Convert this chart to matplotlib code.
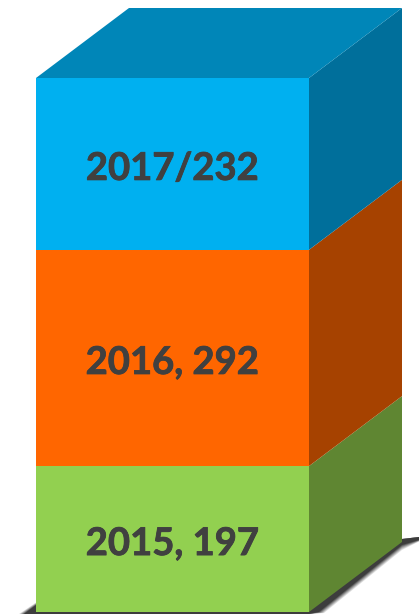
import matplotlib
matplotlib.use('Agg')
import matplotlib.pyplot as plt
import matplotlib.patheffects as pe
from matplotlib.patches import Polygon

# stacked values, bottom to top
years = ['2015', '2016', '2017']
values = [197, 292, 232]
labels = ['2015, 197', '2016, 292', '2017/232']
front_colors = ['#92D050', '#FF6600', '#00B0F0']
side_colors = ['#5F8632', '#A64200', '#006F9B']
top_color = '#0086B8'

plt.rcParams['font.family'] = ['Lato', 'DejaVu Sans']

total = sum(values)
px = 534 / total      # pixels per unit
bar_left = 36
bar_width = 273
depth_x = 93
depth_y = 70 / px

fig = plt.figure(figsize=(4.19, 6.14), dpi=100)
ax = fig.add_axes([0, 0, 1, 1])
ax.set_xlim(0, 419)
ax.set_ylim(-2 / px, total + 78 / px)
ax.axis('off')

right = bar_left + bar_width


def shadow_shape(grow):
    # thin wedge around the foot of the box, grow is in pixels
    return [(bar_left - 12 - grow, -2 / px), (bar_left, (7 + grow * 0.5) / px),
            (right + depth_x, depth_y + 3 / px), (419, depth_y + 5 / px),
            (419, depth_y + (2 - grow * 0.3) / px), (right + depth_x, depth_y - (3 + grow) / px),
            (right + 10 + grow, (0 - grow * 0.2) / px), (right, -2 / px)]


# soft shadow under the box
for grow, a in [(5, 0.15), (4, 0.18), (3, 0.22), (2, 0.3), (1, 0.45), (0, 0.75)]:
    ax.add_patch(Polygon(shadow_shape(grow), closed=True, facecolor='#333333',
                         edgecolor='none', alpha=a, zorder=1))

bottom = 0
for val, label, fc, sc in zip(values, labels, front_colors, side_colors):
    ax.bar(bar_left, val, width=bar_width, bottom=bottom, align='edge', color=fc, zorder=3)
    ax.add_patch(Polygon([(right, bottom), (right + depth_x, bottom + depth_y),
                          (right + depth_x, bottom + val + depth_y), (right, bottom + val)],
                         closed=True, facecolor=sc, edgecolor='none', zorder=2))
    ax.text(bar_left + bar_width / 2, bottom + val / 2 - 5 / px, label, ha='center', va='center',
            fontsize=27.5, fontweight='bold', color='#404040', zorder=4,
            path_effects=[pe.withStroke(linewidth=0.6, foreground='#404040')])
    bottom += val

# lid of the box
ax.add_patch(Polygon([(bar_left, total), (bar_left + depth_x, total + depth_y),
                      (right + depth_x, total + depth_y), (right, total)],
                     closed=True, facecolor=top_color, edgecolor='none', zorder=2))

fig.savefig('out.png', dpi=100)
plt.close()
